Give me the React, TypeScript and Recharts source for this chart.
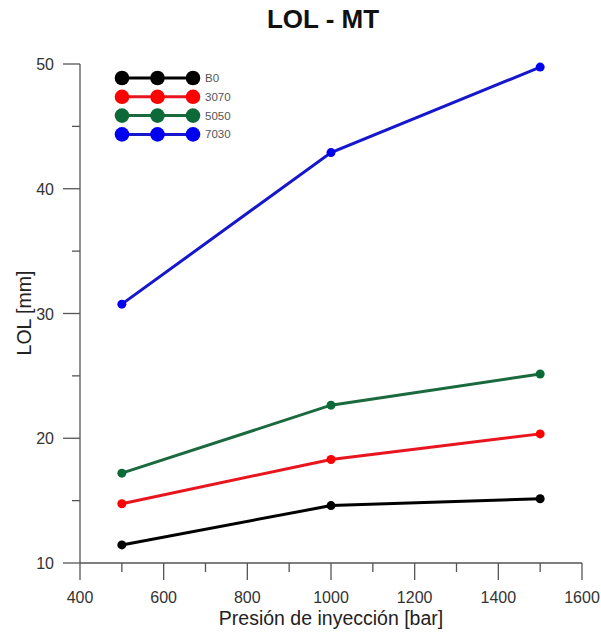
import React from "react";
import { LineChart, Line, XAxis, YAxis } from "recharts";

const pressures = [500, 1000, 1500];
const b0 = [11.45, 14.6, 15.15];
const s3070 = [14.75, 18.3, 20.35];
const s5050 = [17.2, 22.65, 25.15];
const s7030 = [30.75, 42.9, 49.75];

const seriesNames = ["B0", "3070", "5050", "7030"];
const seriesColors = ["#000000", "#ff0000", "#0b6a38", "#0000f0"];
const lineColors = ["#000000", "#e8141e", "#1a6a3e", "#1616cc"];

const xTicks = [400, 500, 600, 700, 800, 900, 1000, 1100, 1200, 1300, 1400, 1500, 1600];
const xMajor = [400, 600, 800, 1000, 1200, 1400, 1600];
const yTicks = [10, 15, 20, 25, 30, 35, 40, 45, 50];
const yMajor = [10, 20, 30, 40, 50];

const data = pressures.map((p, i) => ({
  p,
  B0: b0[i],
  "3070": s3070[i],
  "5050": s5050[i],
  "7030": s7030[i],
}));

const FONT = "Arial, 'Liberation Sans', sans-serif";
const AXIS = "#555";

function XTick(props: any) {
  const { x, y, payload } = props;
  const major = xMajor.includes(payload.value);
  return (
    <g>
      <line x1={x} x2={x} y1={y} y2={y + (major ? 17 : 9)} stroke={AXIS} strokeWidth={1.3} />
      {major && (
        <text x={x} y={y + 40} textAnchor="middle" fontSize={16} fill="#333" fontFamily={FONT}>
          {payload.value}
        </text>
      )}
    </g>
  );
}

function YTick(props: any) {
  const { x, y, payload } = props;
  const major = yMajor.includes(payload.value);
  return (
    <g>
      <line x1={x} x2={x - (major ? 17 : 8)} y1={y} y2={y} stroke={AXIS} strokeWidth={1.3} />
      {major && (
        <text x={x - 26} y={y + 6} textAnchor="end" fontSize={16} fill="#333" fontFamily={FONT}>
          {payload.value}
        </text>
      )}
    </g>
  );
}

function LegendBox() {
  return (
    <svg width={140} height={80} style={{ position: "absolute", left: 112, top: 69 }}>
      {seriesNames.map((name, i) => {
        const cy = 9 + i * 18.8;
        return (
          <g key={name}>
            <line x1={10} x2={81} y1={cy} y2={cy} stroke={lineColors[i]} strokeWidth={3} />
            {[10, 45.5, 81].map((cx) => (
              <circle key={cx} cx={cx} cy={cy} r={7.3} fill={seriesColors[i]} />
            ))}
            <text x={93} y={cy + 4} fontSize={11.5} fill="#555" fontFamily={FONT}>
              {name}
            </text>
          </g>
        );
      })}
    </svg>
  );
}

export default function App() {
  return (
    <div style={{ position: "fixed", left: 0, top: 0, width: 601, height: 633, background: "#fff" }}>
      <div
        style={{
          position: "absolute",
          left: 0,
          width: 646,
          top: 4,
          textAlign: "center",
          fontFamily: FONT,
          fontWeight: "bold",
          fontSize: 26,
          color: "#111",
        }}
      >
        LOL - MT
      </div>
      <LineChart width={601} height={633} data={data} margin={{ top: 64, right: 19, bottom: 20, left: 20 }}>
        <XAxis
          dataKey="p"
          type="number"
          domain={[400, 1600]}
          ticks={xTicks}
          interval={0}
          tick={<XTick />}
          tickSize={0}
          tickMargin={0}
          tickLine={false}
          stroke={AXIS}
          strokeWidth={1.3}
          height={50}
          label={{
            content: () => (
              <text x={331} y={625} textAnchor="middle" fontSize={19.5} fill="#222" fontFamily={FONT}>
                Presión de inyección [bar]
              </text>
            ),
          }}
        />
        <YAxis
          type="number"
          domain={[10, 50]}
          ticks={yTicks}
          interval={0}
          tick={<YTick />}
          tickSize={0}
          tickMargin={0}
          tickLine={false}
          stroke={AXIS}
          strokeWidth={1.3}
          width={60}
          label={{
            content: () => (
              <text
                x={31}
                y={313}
                transform="rotate(-90 31 313)"
                textAnchor="middle"
                fontSize={19.5}
                fill="#222"
                fontFamily={FONT}
              >
                LOL [mm]
              </text>
            ),
          }}
        />
        {seriesNames.map((name, i) => (
          <Line
            key={name}
            dataKey={name}
            stroke={lineColors[i]}
            strokeWidth={3}
            dot={{ r: 4.5, fill: seriesColors[i], stroke: seriesColors[i], strokeWidth: 0 }}
            activeDot={false}
            isAnimationActive={false}
          />
        ))}
      </LineChart>
      <LegendBox />
    </div>
  );
}
